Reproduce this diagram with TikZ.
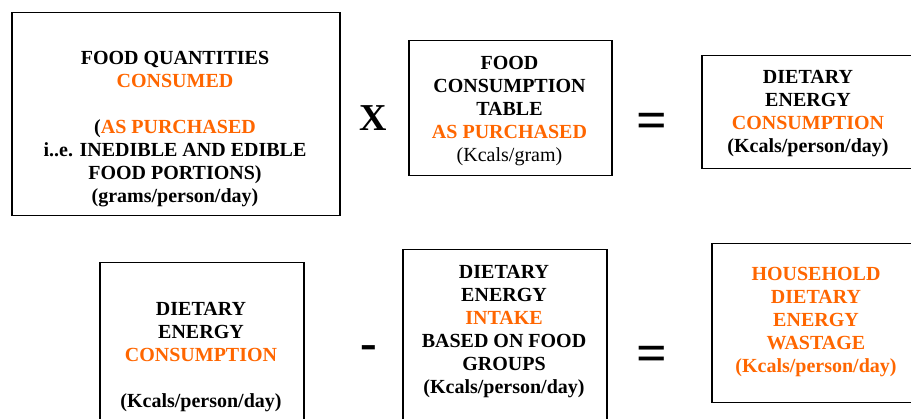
\documentclass[tikz,border=0pt]{standalone}
\usepackage{fontspec}
\setmainfont{Liberation Serif}
\definecolor{hl}{HTML}{FF6600}
\begin{document}
\begin{tikzpicture}[x=1pt,y=-1pt,
  box/.style={draw=black,line width=1.5pt,inner sep=0pt,anchor=north west},
  txt/.style={align=center,inner sep=0pt,font=\fontsize{20}{23}\selectfont\bfseries},
  op/.style={inner sep=0pt,font=\fontsize{38}{38}\selectfont\bfseries}]
\useasboundingbox (0,0) rectangle (911,419);
\clip (0,0) rectangle (911,419);
% boxes
\node[box,minimum width=328pt,minimum height=203pt] (b1) at (11,12) {};
\node[box,minimum width=203pt,minimum height=135pt] (b2) at (408,40) {};
\node[box,minimum width=214pt,minimum height=113pt] (b3) at (701,55) {};
\node[box,minimum width=204pt,minimum height=180pt] (b4) at (99,262) {};
\node[box,minimum width=204pt,minimum height=190pt] (b5) at (402,249) {};
\node[box,minimum width=210pt,minimum height=159pt] (b6) at (711,243) {};
% texts
\node[txt] (t1) at (175,129.5) {FOOD QUANTITIES\\\textcolor{hl}{CONSUMED}\\[23pt]
(\textcolor{hl}{AS PURCHASED}\\i..e. INEDIBLE AND EDIBLE\\FOOD PORTIONS)\\(grams/person/day)};
\node[txt] (t2) at (509.5,111) {FOOD\\CONSUMPTION\\TABLE\\\textcolor{hl}{AS PURCHASED}\\\mdseries(Kcals/gram)};
\node[txt] (t3) at (808,113.5) {DIETARY\\ENERGY\\\textcolor{hl}{CONSUMPTION}\\(Kcals/person/day)};
\node[txt] (t4) at (201,357) {DIETARY\\ENERGY\\\textcolor{hl}{CONSUMPTION}\\[23pt](Kcals/person/day)};
\node[txt] (t5) at (504,331.5) {DIETARY\\ENERGY\\\textcolor{hl}{INTAKE}\\BASED ON FOOD\\GROUPS\\(Kcals/person/day)};
\node[txt,text=hl] (t6) at (816,322) {HOUSEHOLD\\DIETARY\\ENERGY\\WASTAGE\\(Kcals/person/day)};
% operators
\node[op] (x) at (373,118) {X};
\node[op,font=\fontsize{54}{54}\selectfont\bfseries] (eq1) at (652,126) {=};
\node[op,font=\fontsize{50}{50}\selectfont\bfseries] (minus) at (369,353) {-};
\node[op,font=\fontsize{54}{54}\selectfont\bfseries] (eq2) at (652,359) {=};
\end{tikzpicture}
\end{document}
